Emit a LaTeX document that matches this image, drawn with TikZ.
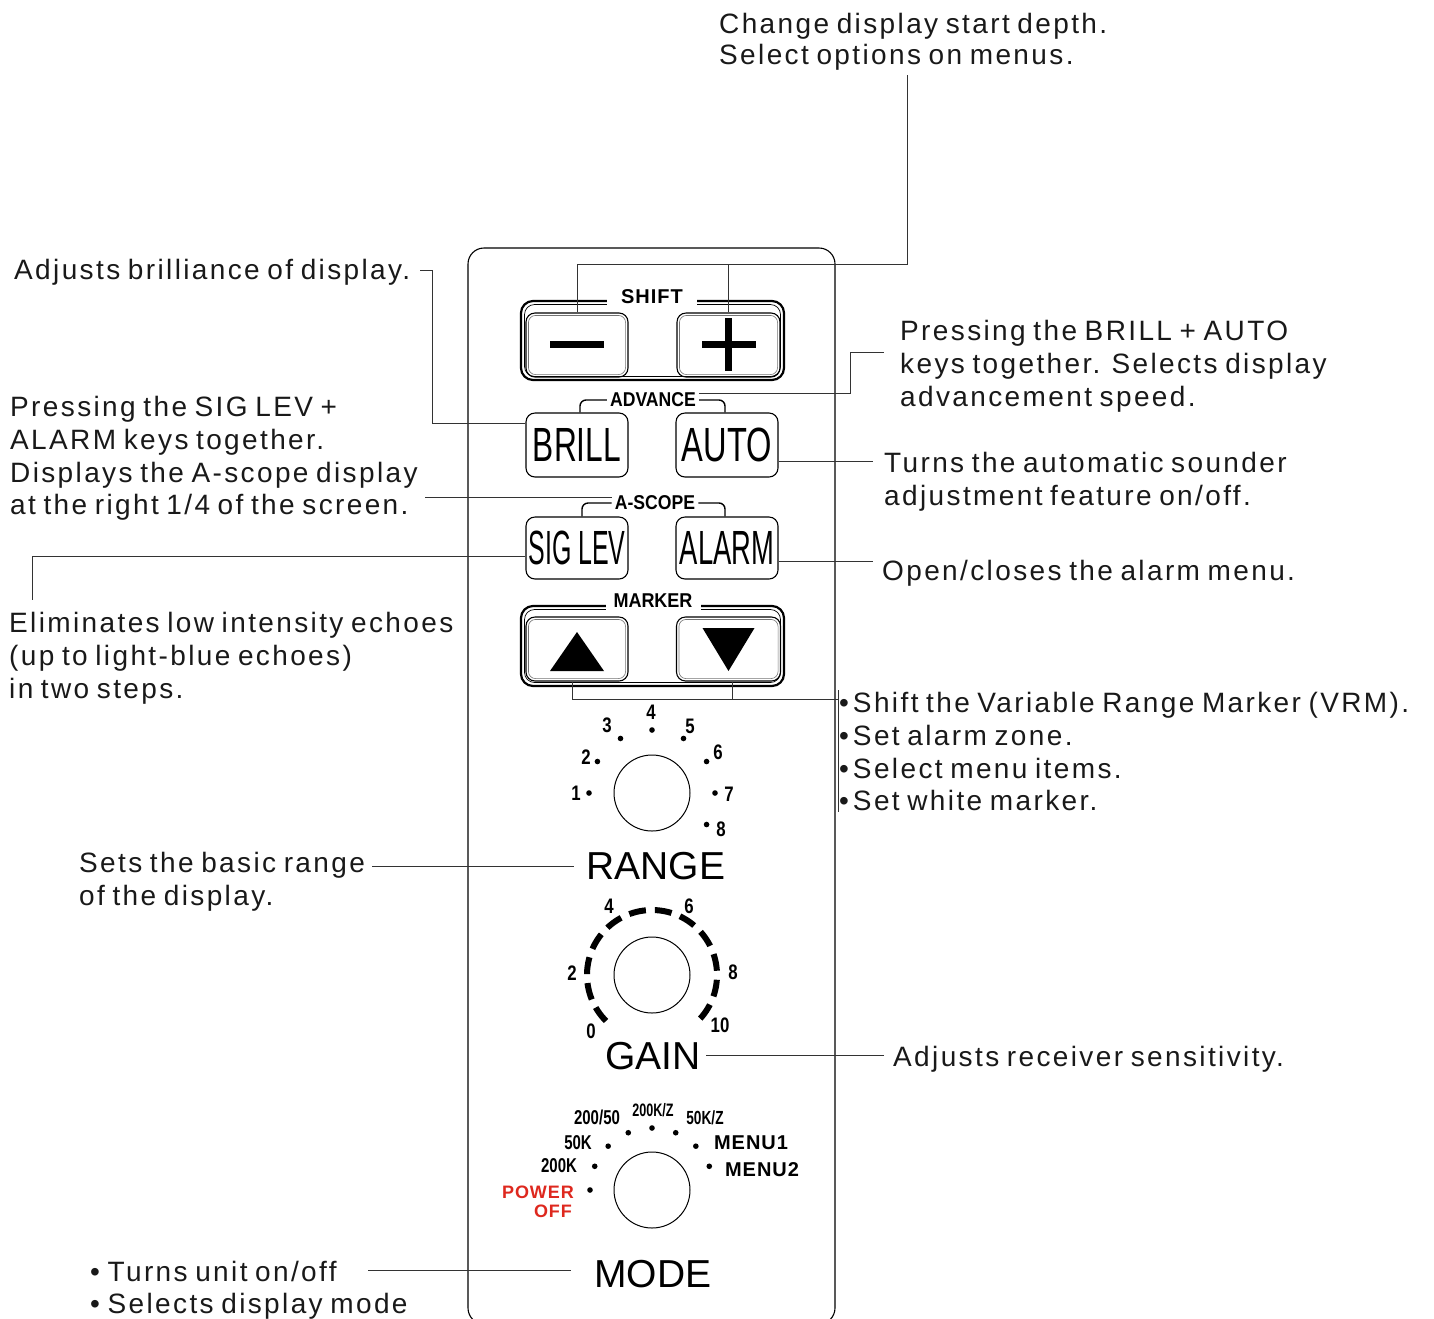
\documentclass[tikz,border=0pt]{standalone}
\usepackage{fontspec}
\usepackage{graphicx}
\setmainfont{Liberation Sans}
\newfontfamily\descfont[LetterSpace=8.5,WordSpace=0.75]{Liberation Sans}
\newfontfamily\lblsp[LetterSpace=5]{Liberation Sans}
\usetikzlibrary{calc}
\definecolor{pwred}{RGB}{222,40,30}
\newcommand\knl[2][0.8]{\scalebox{#1}[1]{#2}}
\begin{document}
\begin{tikzpicture}[x=1pt,y=-1pt,
  desc/.style={anchor=base west, inner sep=0, font=\descfont\fontsize{28}{33}\selectfont, text=black!90},
  conn/.style={line width=1pt, draw=black!80},
  btn/.style={draw, line width=1.1pt, rounded corners=9pt, minimum width=102pt, minimum height=64pt, inner sep=0},
  grplbl/.style={font=\lblsp\bfseries\fontsize{20}{20}\selectfont, fill=white, inner ysep=3pt, inner xsep=14pt},
  brlbl/.style={font=\bfseries\fontsize{20}{20}\selectfont, fill=white, inner sep=3pt},
  knob/.style={circle, draw, line width=1pt, minimum size=76pt, inner sep=0},
  knum/.style={font=\bfseries\fontsize{21}{21}\selectfont, inner sep=0},
  mlbl/.style={font=\lblsp\bfseries\fontsize{20}{20}\selectfont, inner sep=0},
  big/.style={font=\fontsize{39}{39}\selectfont, inner sep=0},
  bevel/.style={draw=black!55, line width=0.6pt, rounded corners=7pt},
  frame/.style={line width=2.2pt, rounded corners=12pt},
  bracket/.style={line width=1.4pt, rounded corners=6pt}
]
\useasboundingbox (0,0) rectangle (1434,1318);

% panel
\draw[line width=1.1pt, rounded corners=16pt] (468,248) rectangle (835,1324);

% SHIFT group
\draw[frame] (521,301) rectangle (784,380);
\draw[line width=0.7pt, rounded corners=10pt] (524.5,304.5) rectangle (780.5,376.5);
\node[btn] (minus) at (577,345) {};
\node[btn, minimum width=103pt] (plus) at (728.5,345) {};
\draw[bevel] ($(minus.south west)+(3,-3)$) rectangle ($(minus.north east)+(-3,3)$);
\draw[bevel] ($(plus.south west)+(3,-3)$) rectangle ($(plus.north east)+(-3,3)$);
\fill ($(minus.center)+(-27,-4)$) rectangle ($(minus.center)+(27,3)$);
\fill ($(plus.center)+(-27,-4)$) rectangle ($(plus.center)+(27,3)$);
\fill ($(plus.center)+(-3.5,-27)$) rectangle ($(plus.center)+(3.5,26)$);
\node[grplbl] (shift) at (652,297) {SHIFT};

% BRILL / AUTO
\node[btn] (brill) at (577,445) {\knl[0.66]{\fontsize{48}{48}\selectfont BRILL}};
\node[btn] (auto) at (727,445) {\knl[0.68]{\fontsize{48}{48}\selectfont AUTO}};
\node[brlbl] (adv) at (653,400) {\knl[0.88]{ADVANCE}};
\draw[bracket] ([xshift=3pt]brill.north) |- (adv.west);
\draw[bracket] ([xshift=-2pt]auto.north) |- (adv.east);

% SIG LEV / ALARM
\node[btn, minimum height=62pt] (siglev) at (577,548) {\knl[0.52]{\fontsize{48}{48}\selectfont SIG LEV}};
\node[btn, minimum height=62pt] (alarm) at (727,548) {\knl[0.57]{\fontsize{48}{48}\selectfont ALARM}};
\node[brlbl] (ascope) at (655,503) {\knl[0.88]{A-SCOPE}};
\draw[bracket] ([xshift=5pt]siglev.north) |- (ascope.west);
\draw[bracket] ([xshift=-2pt]alarm.north) |- (ascope.east);

% MARKER group
\draw[frame] (521,606) rectangle (784,686);
\draw[line width=0.7pt, rounded corners=10pt] (524.5,609.5) rectangle (780.5,682.5);
\node[btn] (up) at (577,649) {};
\node[btn, minimum width=104pt] (down) at (728.5,649) {};
\draw[bevel] ($(up.south west)+(3,-3)$) rectangle ($(up.north east)+(-3,3)$);
\draw[bevel] ($(down.south west)+(3,-3)$) rectangle ($(down.north east)+(-3,3)$);
\fill ($(up.center)+(-27,22)$) -- ($(up.center)+(27,22)$) -- ($(up.center)+(0,-17)$) -- cycle;
\fill ($(down.center)+(-26,-21)$) -- ($(down.center)+(26,-21)$) -- ($(down.center)+(0,22)$) -- cycle;
\node[brlbl, inner xsep=8pt] (marker) at (653,601) {\knl[0.9]{MARKER}};

% RANGE knob
\node[knob] (rknob) at (652,793) {};
\foreach \a in {180,150,120,90,60,30,0,-30}
  \fill ($(rknob.center)+(\a:63pt)$) circle (2.8pt);
\node[knum] (r1) at (576,793) {\knl{1}};
\node[knum] (r2) at (586,757) {\knl{2}};
\node[knum] (r3) at (607,725) {\knl{3}};
\node[knum] (r4) at (651,712) {\knl{4}};
\node[knum] (r5) at (690,726) {\knl{5}};
\node[knum] (r6) at (718,752) {\knl{6}};
\node[knum] (r7) at (729,794) {\knl{7}};
\node[knum] (r8) at (721,829) {\knl{8}};
\node[big] (range) at (656,866) {RANGE};

% GAIN knob
\node[knob] (gknob) at (652,975) {};
\draw[line width=6pt, dash pattern=on 17pt off 9pt] ($(gknob.center)+(225:65pt)$) arc[start angle=225, end angle=-45, radius=65pt];
\node[knum] (g0) at (591,1031) {\knl{0}};
\node[knum] (g2) at (572,973) {\knl{2}};
\node[knum] (g4) at (609,906) {\knl{4}};
\node[knum] (g6) at (689,906) {\knl{6}};
\node[knum] (g8) at (733,972) {\knl{8}};
\node[knum] (g10) at (720,1025) {\knl{10}};
\node[big] (gain) at (653,1056) {GAIN};

% MODE knob
\node[knob] (mknob) at (652,1190) {};
\foreach \a in {180,157.5,135,112.5,90,67.5,45,22.5}
  \fill ($(mknob.center)+(\a:62pt)$) circle (2.8pt);
\node[knum, font=\bfseries\fontsize{20}{20}\selectfont] (m2050) at (597,1117) {\knl[0.75]{200/50}};
\node[knum, font=\bfseries\fontsize{18}{18}\selectfont] (m200kz) at (653,1110) {\knl[0.7]{200K/Z}};
\node[knum, font=\bfseries\fontsize{19}{19}\selectfont] (m50kz) at (705,1118) {\knl[0.72]{50K/Z}};
\node[knum, font=\bfseries\fontsize{20}{20}\selectfont] (m50k) at (578,1143) {\knl[0.75]{50K}};
\node[knum, font=\bfseries\fontsize{20}{20}\selectfont] (m200k) at (559,1166) {\knl[0.75]{200K}};
\node[mlbl] (menu1) at (751,1143) {MENU1};
\node[mlbl] (menu2) at (762,1170) {MENU2};
\node[mlbl, text=pwred, font=\lblsp\bfseries\fontsize{18}{18}\selectfont] (power) at (538,1192) {POWER};
\node[mlbl, text=pwred, font=\lblsp\bfseries\fontsize{18}{18}\selectfont] (off) at (553,1211) {OFF};
\node[big] (mode) at (653,1274) {MODE};

% description texts
\node[desc] (chg1) at (719,33) {Change display start depth.};
\node[desc] (chg2) at (719,64) {Select options on menus.};
\node[desc] (bri) at (14,279) {Adjusts brilliance of display.};
\node[desc] (sig1) at (10,416) {Pressing the SIG LEV +};
\node[desc] (sig2) at (10,449) {ALARM keys together.};
\node[desc] (sig3) at (10,482) {Displays the A-scope display};
\node[desc] (sig4) at (10,514) {at the right 1/4 of the screen.};
\node[desc] (adv1) at (900,340) {Pressing the BRILL + AUTO};
\node[desc] (adv2) at (900,373) {keys together. Selects display};
\node[desc] (adv3) at (900,406) {advancement speed.};
\node[desc] (aut1) at (884,472) {Turns the automatic sounder};
\node[desc] (aut2) at (884,505) {adjustment feature on/off.};
\node[desc] (alm) at (882,580) {Open/closes the alarm menu.};
\node[desc] (eli1) at (9,632) {Eliminates low intensity echoes};
\node[desc] (eli2) at (9,665) {(up to light-blue echoes)};
\node[desc] (eli3) at (9,698) {in two steps.};
\node[desc] (vrm1) at (839,712) {•\kern4pt Shift the Variable Range Marker (VRM).};
\node[desc] (vrm2) at (839,745) {•\kern4pt Set alarm zone.};
\node[desc] (vrm3) at (839,778) {•\kern4pt Select menu items.};
\node[desc] (vrm4) at (839,810) {•\kern4pt Set white marker.};
\node[desc] (rng1) at (79,872) {Sets the basic range};
\node[desc] (rng2) at (79,905) {of the display.};
\node[desc] (gn) at (893,1066) {Adjusts receiver sensitivity.};
\node[desc] (md1) at (90,1281) {• Turns unit on/off};
\node[desc] (md2) at (90,1313) {• Selects display mode};

% connectors
\coordinate (cshift) at (907,264);
\coordinate (cshifttop) at (907,75);
\draw[conn] (minus.north) |- (cshift) -- (cshifttop);
\draw[conn] (plus.north) -- (plus.north |- cshift);

\coordinate (cbri) at (432,270);
\coordinate (cbriend) at (420,270);
\draw[conn] ([yshift=22pt]brill.west) -| (cbri) -- (cbriend);

\coordinate (cadv) at (850,352);
\coordinate (cadvend) at (884,352);
\draw[conn] ([yshift=7pt]adv.east) -| (cadv) -- (cadvend);

\coordinate (cauto) at (873,461);
\draw[conn] ([yshift=-16pt]auto.east) -- (cauto);

\coordinate (casc) at (425,497);
\draw[conn] ([yshift=6pt]ascope.west) -- (casc);

\coordinate (csig) at (32,600);
\draw[conn] ([yshift=-8pt]siglev.west) -| (csig);

\coordinate (calm) at (873,561);
\draw[conn] ([yshift=-13pt]alarm.east) -- (calm);

\coordinate (cmk) at (838,699);
\coordinate (cmktop) at (838,690);
\coordinate (cmkbot) at (838,812);
\draw[conn] ([xshift=-5pt]up.south) |- (cmk);
\draw[conn] ([xshift=3.5pt]down.south) -- ([xshift=3.5pt]down.south |- cmk);
\draw[conn] (cmktop) -- (cmkbot);

\coordinate (crng) at (372,866);
\draw[conn] (crng) -- ([xshift=-12pt]range.west |- crng);

\coordinate (cgain) at (884,1055);
\draw[conn] (cgain) -- ([xshift=5pt]gain.east |- cgain);

\coordinate (cmode) at (368,1270);
\draw[conn] (cmode) -- ([xshift=-23pt]mode.west |- cmode);
\end{tikzpicture}
\end{document}
